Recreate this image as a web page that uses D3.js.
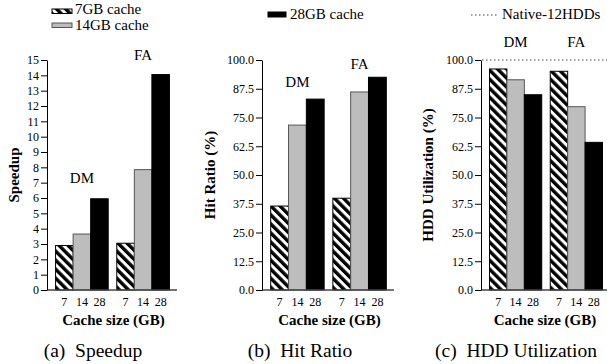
<!DOCTYPE html>
<html>
<head>
<meta charset="utf-8">
<script src="https://cdn.jsdelivr.net/npm/d3@7"></script>
<style>
  body { margin: 0; background: #fff; }
  svg { display: block; }
</style>
</head>
<body>
<div id="chart"></div>
<script>
const groups = ["DM", "FA"];
const cacheSizes = ["7", "14", "28"];
const legendLabels = ["7GB cache", "14GB cache", "28GB cache"];

const speedupDM = [2.9, 3.65, 5.95];
const speedupFA = [3.05, 7.85, 14.05];
const hitRatioDM = [36.5, 71.7, 83.0];
const hitRatioFA = [39.9, 86.1, 92.5];
const hddUtilDM = [96.1, 91.4, 84.9];
const hddUtilFA = [95.1, 79.7, 64.2];
const nativeUtil = 100;

const speedupTicks = d3.range(0, 16, 1);
const percentTicks = [0, 12.5, 25, 37.5, 50, 62.5, 75, 87.5, 100];

const FONT = "Liberation Serif";
const width = 607, height = 364;
const plotTop = 60, plotBottom = 290;

const svg = d3.select("#chart")
  .append("svg")
  .attr("width", width)
  .attr("height", height)
  .attr("font-family", FONT);

const defs = svg.append("defs");
const pat = defs.append("pattern")
  .attr("id", "hatch")
  .attr("patternUnits", "userSpaceOnUse")
  .attr("width", 6.4)
  .attr("height", 6.4)
  .attr("patternTransform", "rotate(-45)");
pat.append("rect").attr("width", 6.4).attr("height", 6.4).attr("fill", "#fff");
pat.append("rect").attr("width", 3.4).attr("height", 6.4).attr("fill", "#000");

const fills = ["url(#hatch)", "#bdbdbd", "#000"];
const strokes = ["#000", "#555", "#000"];

const panels = [
  { x0: 47, x1: 178, max: 15, ticks: speedupTicks, fmt: d3.format("d"),
    data: [speedupDM, speedupFA], ylabel: "Speedup", ylabelX: 13.5,
    caption: "(a)  Speedup", captionX: 93, labelAt: [7, 15] },
  { x0: 262, x1: 395, max: 100, ticks: percentTicks, fmt: d3.format(".1f"),
    data: [hitRatioDM, hitRatioFA], ylabel: "Hit Ratio (%)", ylabelX: 210,
    caption: "(b)  Hit Ratio", captionX: 300, labelAt: [88.3, 96] },
  { x0: 481, x1: 611, max: 100, ticks: percentTicks, fmt: d3.format(".1f"),
    data: [hddUtilDM, hddUtilFA], ylabel: "HDD Utilization (%)", ylabelX: 428,
    caption: "(c)  HDD Utilization", captionX: 516, labelAt: [105.7, 105.7],
    native: nativeUtil }
];

panels.forEach(p => {
  const g = svg.append("g");

  const y = d3.scaleLinear().domain([0, p.max]).range([plotBottom, plotTop]);
  const x = d3.scaleBand().domain(groups).range([p.x0, p.x1])
    .paddingInner(0.14).paddingOuter(0.14);
  const xi = d3.scaleBand().domain(cacheSizes).range([0, x.bandwidth()]);

  if (p.native !== undefined) {
    g.append("line")
      .attr("x1", p.x0 + 1).attr("x2", width)
      .attr("y1", y(p.native)).attr("y2", y(p.native))
      .attr("stroke", "#444")
      .attr("stroke-width", 1.2)
      .attr("stroke-dasharray", "1.5,2.5");
  }

  const groupSel = g.selectAll(".grp")
    .data(groups)
    .enter()
    .append("g")
    .attr("transform", d => `translate(${x(d)},0)`);

  groupSel.selectAll("rect")
    .data((d, i) => p.data[i].map((v, j) => ({ v, j })))
    .enter()
    .append("rect")
    .attr("x", d => xi(cacheSizes[d.j]))
    .attr("y", d => y(d.v))
    .attr("width", xi.bandwidth())
    .attr("height", d => plotBottom - y(d.v))
    .attr("fill", d => fills[d.j])
    .attr("stroke", d => strokes[d.j])
    .attr("stroke-width", 1);

  // cache-size tick labels
  groupSel.selectAll(".cs")
    .data(cacheSizes)
    .enter()
    .append("text")
    .attr("x", d => xi(d) + xi.bandwidth() / 2)
    .attr("y", 306)
    .attr("text-anchor", "middle")
    .attr("font-family", FONT)
    .attr("font-size", "12px")
    .text(d => d);

  // group labels
  groupSel.append("text")
    .attr("x", x.bandwidth() / 2)
    .attr("y", (d, i) => y(p.labelAt[i]))
    .attr("text-anchor", "middle")
    .attr("font-family", FONT)
    .attr("font-size", "15px")
    .text(d => d);

  // x baseline
  g.append("line")
    .attr("x1", p.x0).attr("x2", p.x1 - 1)
    .attr("y1", plotBottom).attr("y2", plotBottom)
    .attr("stroke", "#444")
    .attr("stroke-width", 1.5);

  // y axis
  const yAxis = g.append("g")
    .attr("transform", `translate(${p.x0},0)`)
    .call(d3.axisLeft(y).tickValues(p.ticks).tickFormat(p.fmt).tickSize(6).tickPadding(2).tickSizeOuter(0))
    .attr("font-family", FONT)
    .attr("font-size", "12px");
  yAxis.selectAll("text").attr("fill", "#000");
  yAxis.selectAll("line, path").attr("stroke", "#000");

  g.append("text")
    .attr("transform", `translate(${p.ylabelX + 5},175) rotate(-90)`)
    .attr("text-anchor", "middle")
    .attr("font-family", FONT)
    .attr("font-size", "15px")
    .attr("font-weight", "bold")
    .text(p.ylabel);

  g.append("text")
    .attr("x", (p.x0 + Math.min(p.x1, width)) / 2 + 1)
    .attr("y", 325)
    .attr("text-anchor", "middle")
    .attr("font-family", FONT)
    .attr("font-size", "15px")
    .attr("font-weight", "bold")
    .text("Cache size (GB)");

  g.append("text")
    .attr("x", p.captionX)
    .attr("y", 357)
    .attr("text-anchor", "middle")
    .attr("font-family", FONT)
    .attr("font-size", "19.5px")
    .style("white-space", "pre")
    .text(p.caption);
});

// legend
const legendPos = [
  { x: 52, y: 9, tx: 75, ty: 14 },
  { x: 52, y: 23, tx: 75, ty: 30 },
  { x: 268, y: 12, tx: 290, ty: 19 }
];
const legend = svg.append("g");
legendLabels.forEach((label, i) => {
  const lp = legendPos[i];
  legend.append("rect")
    .attr("x", lp.x).attr("y", lp.y)
    .attr("width", i === 2 ? 18 : 20).attr("height", i === 2 ? 5 : 4.5)
    .attr("fill", fills[i])
    .attr("stroke", strokes[i])
    .attr("stroke-width", 1);
  legend.append("text")
    .attr("x", lp.tx).attr("y", lp.ty)
    .attr("font-family", FONT)
    .attr("font-size", "15px")
    .text(label);
});
legend.append("line")
  .attr("x1", 471).attr("x2", 497)
  .attr("y1", 15).attr("y2", 15)
  .attr("stroke", "#444")
  .attr("stroke-width", 1.2)
  .attr("stroke-dasharray", "1.5,2.5");
legend.append("text")
  .attr("x", 502).attr("y", 19)
  .attr("font-family", FONT)
  .attr("font-size", "15px")
  .text("Native-12HDDs");
</script>
</body>
</html>
